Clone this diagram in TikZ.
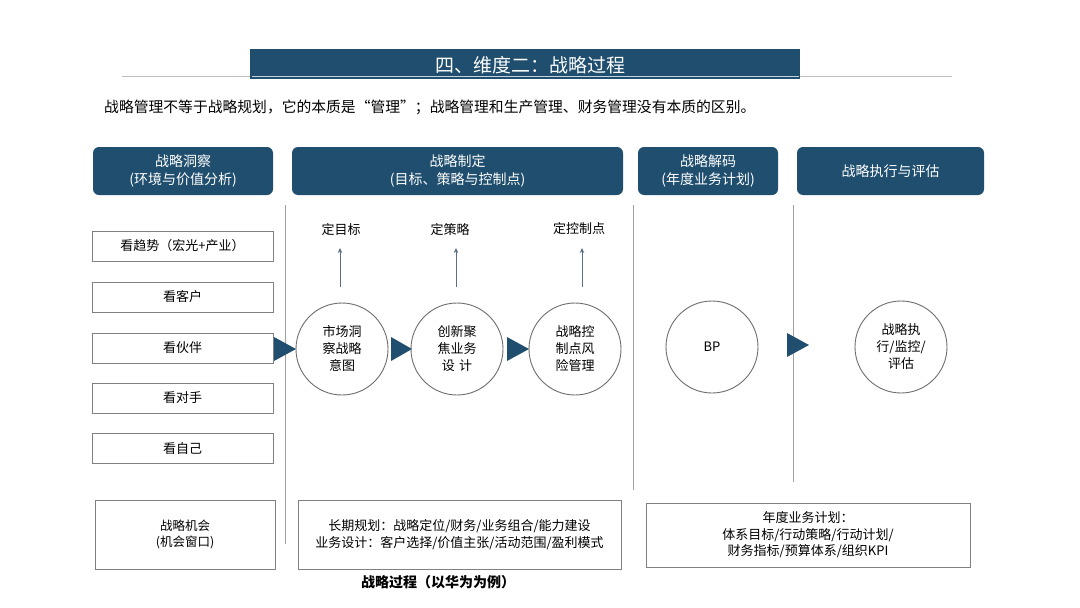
\documentclass[tikz,border=0pt]{standalone}
\usepackage{fontspec}
\setmainfont{Noto Sans CJK SC}
\usetikzlibrary{arrows.meta}
\definecolor{dblue}{HTML}{1F4E6E}
\definecolor{boxgray}{HTML}{808080}
\definecolor{circgray}{HTML}{6E6E6E}
\definecolor{divgray}{HTML}{A0A0A0}
\definecolor{hrgray}{HTML}{BDBDBD}
\definecolor{upblue}{HTML}{5A6F82}
\definecolor{ulight}{HTML}{C5D5E0}
\tikzset{
  hdr/.style={fill=dblue, rounded corners=6pt, text=white, align=center, inner sep=0pt,
    font=\fontsize{14}{17.5}\selectfont},
  lbox/.style={draw=boxgray, line width=0.9pt, minimum width=181, minimum height=30, inner sep=0pt,
    font=\fontsize{13}{16}\selectfont},
  bbox/.style={draw=boxgray, line width=0.9pt, inner sep=0pt, align=center,
    font=\fontsize{13}{16.5}\selectfont},
  circ/.style={circle, draw=circgray, line width=0.9pt, minimum size=92, inner sep=0pt, align=center,
    font=\fontsize{13}{17}\selectfont},
  lbl/.style={inner sep=0pt, font=\fontsize{13}{16}\selectfont},
  divline/.style={draw=divgray, line width=0.9pt},
  uparrow/.style={draw=upblue, line width=1pt, -{Stealth[length=5pt,width=4.5pt]}},
  tri/.style={fill=dblue}
}
\begin{document}
\begin{tikzpicture}[x=1pt,y=-1pt]
\useasboundingbox (0,0) rectangle (1080,608);
\fill[white] (0,0) rectangle (1080,608);

% horizontal rule and title banner
\draw[hrgray, line width=1pt] (122,76) -- (952,76);
\node[fill=dblue, minimum width=550, minimum height=30, inner sep=0pt, anchor=north west] (banner) at (250,49) {};
\draw[ulight, line width=1pt] (252,76) -- (799,76);
\node[text=white, inner sep=0pt, font=\fontsize{19}{22}\selectfont] (title) at (530,65) {四、维度二：战略过程};

% subtitle
\node[anchor=west, inner sep=0pt, font=\fontsize{14.8}{17}\selectfont] (sub) at (104,107)
  {战略管理不等于战略规划，它的本质是“管理”；战略管理和生产管理、财务管理没有本质的区别。};

% headers
\node[hdr, minimum width=180, minimum height=48] (h1) at (183,171) {战略洞察\\(环境与价值分析)};
\node[hdr, minimum width=331, minimum height=48] (h2) at (457.5,171) {战略制定\\(目标、策略与控制点)};
\node[hdr, minimum width=140, minimum height=48] (h3) at (708,171) {战略解码\\(年度业务计划)};
\node[hdr, minimum width=187, minimum height=48] (h4) at (890.5,171) {战略执行与评估};

% vertical dividers
\draw[divline] (285,205) -- (285,544);
\draw[divline] (633,205) -- (633,490);
\draw[divline] (793,205) -- (793,482);

% left boxes
\node[lbox] (k1) at (182.5,246) {看趋势（宏光+产业）};
\node[lbox] (k2) at (182.5,297) {看客户};
\node[lbox] (k3) at (182.5,348) {看伙伴};
\node[lbox] (k4) at (182.5,398) {看对手};
\node[lbox] (k5) at (182.5,448.5) {看自己};

% circles
\node[circ] (c1) at (342,349) {市场洞\\察战略\\意图};
\node[circ] (c2) at (457,349) {创新聚\\焦业务\\设\,\,计};
\node[circ] (c3) at (575,349) {战略控\\制点风\\险管理};
\node[circ] (c4) at (712,347) {BP};
\node[circ] (c5) at (901,347) {战略执\\行/监控/\\评估};

% triangles
\fill[tri] (274,337) -- (296,349) -- (274,361) -- cycle;
\fill[tri] (391,337) -- (412,349) -- (391,361) -- cycle;
\fill[tri] (507,337) -- (529,349) -- (507,361) -- cycle;
\fill[tri] (787,333) -- (809,345) -- (787,357) -- cycle;

% top labels and arrows
\node[lbl] (l1) at (341,230) {定目标};
\node[lbl] (l2) at (450,230) {定策略};
\node[lbl] (l3) at (579,229) {定控制点};
\coordinate (a1s) at (340,287); \coordinate (a1e) at (340,248);
\coordinate (a2s) at (456,287); \coordinate (a2e) at (456,248);
\coordinate (a3s) at (582,287); \coordinate (a3e) at (582,248);
\draw[uparrow] (a1s) -- (a1e);
\draw[uparrow] (a2s) -- (a2e);
\draw[uparrow] (a3s) -- (a3e);

% bottom boxes
\node[bbox, minimum width=180, minimum height=69, font=\fontsize{12.5}{16}\selectfont] (b1) at (185,534.5) {战略机会\\(机会窗口)};
\node[bbox, minimum width=323, minimum height=69] (b2) at (459.5,534.5)
  {长期规划：战略定位/财务/业务组合/能力建设\\业务设计：客户选择/价值主张/活动范围/盈利模式};
\node[bbox, minimum width=324, minimum height=64] (b3) at (808,535)
  {年度业务计划：\\体系目标/行动策略/行动计划/\\财务指标/预算体系/组织KPI};

% caption
\node[inner sep=0pt, font=\fontsize{14}{16}\selectfont\bfseries] (cap) at (438,582) {战略过程（以华为为例）};
\end{tikzpicture}
\end{document}
